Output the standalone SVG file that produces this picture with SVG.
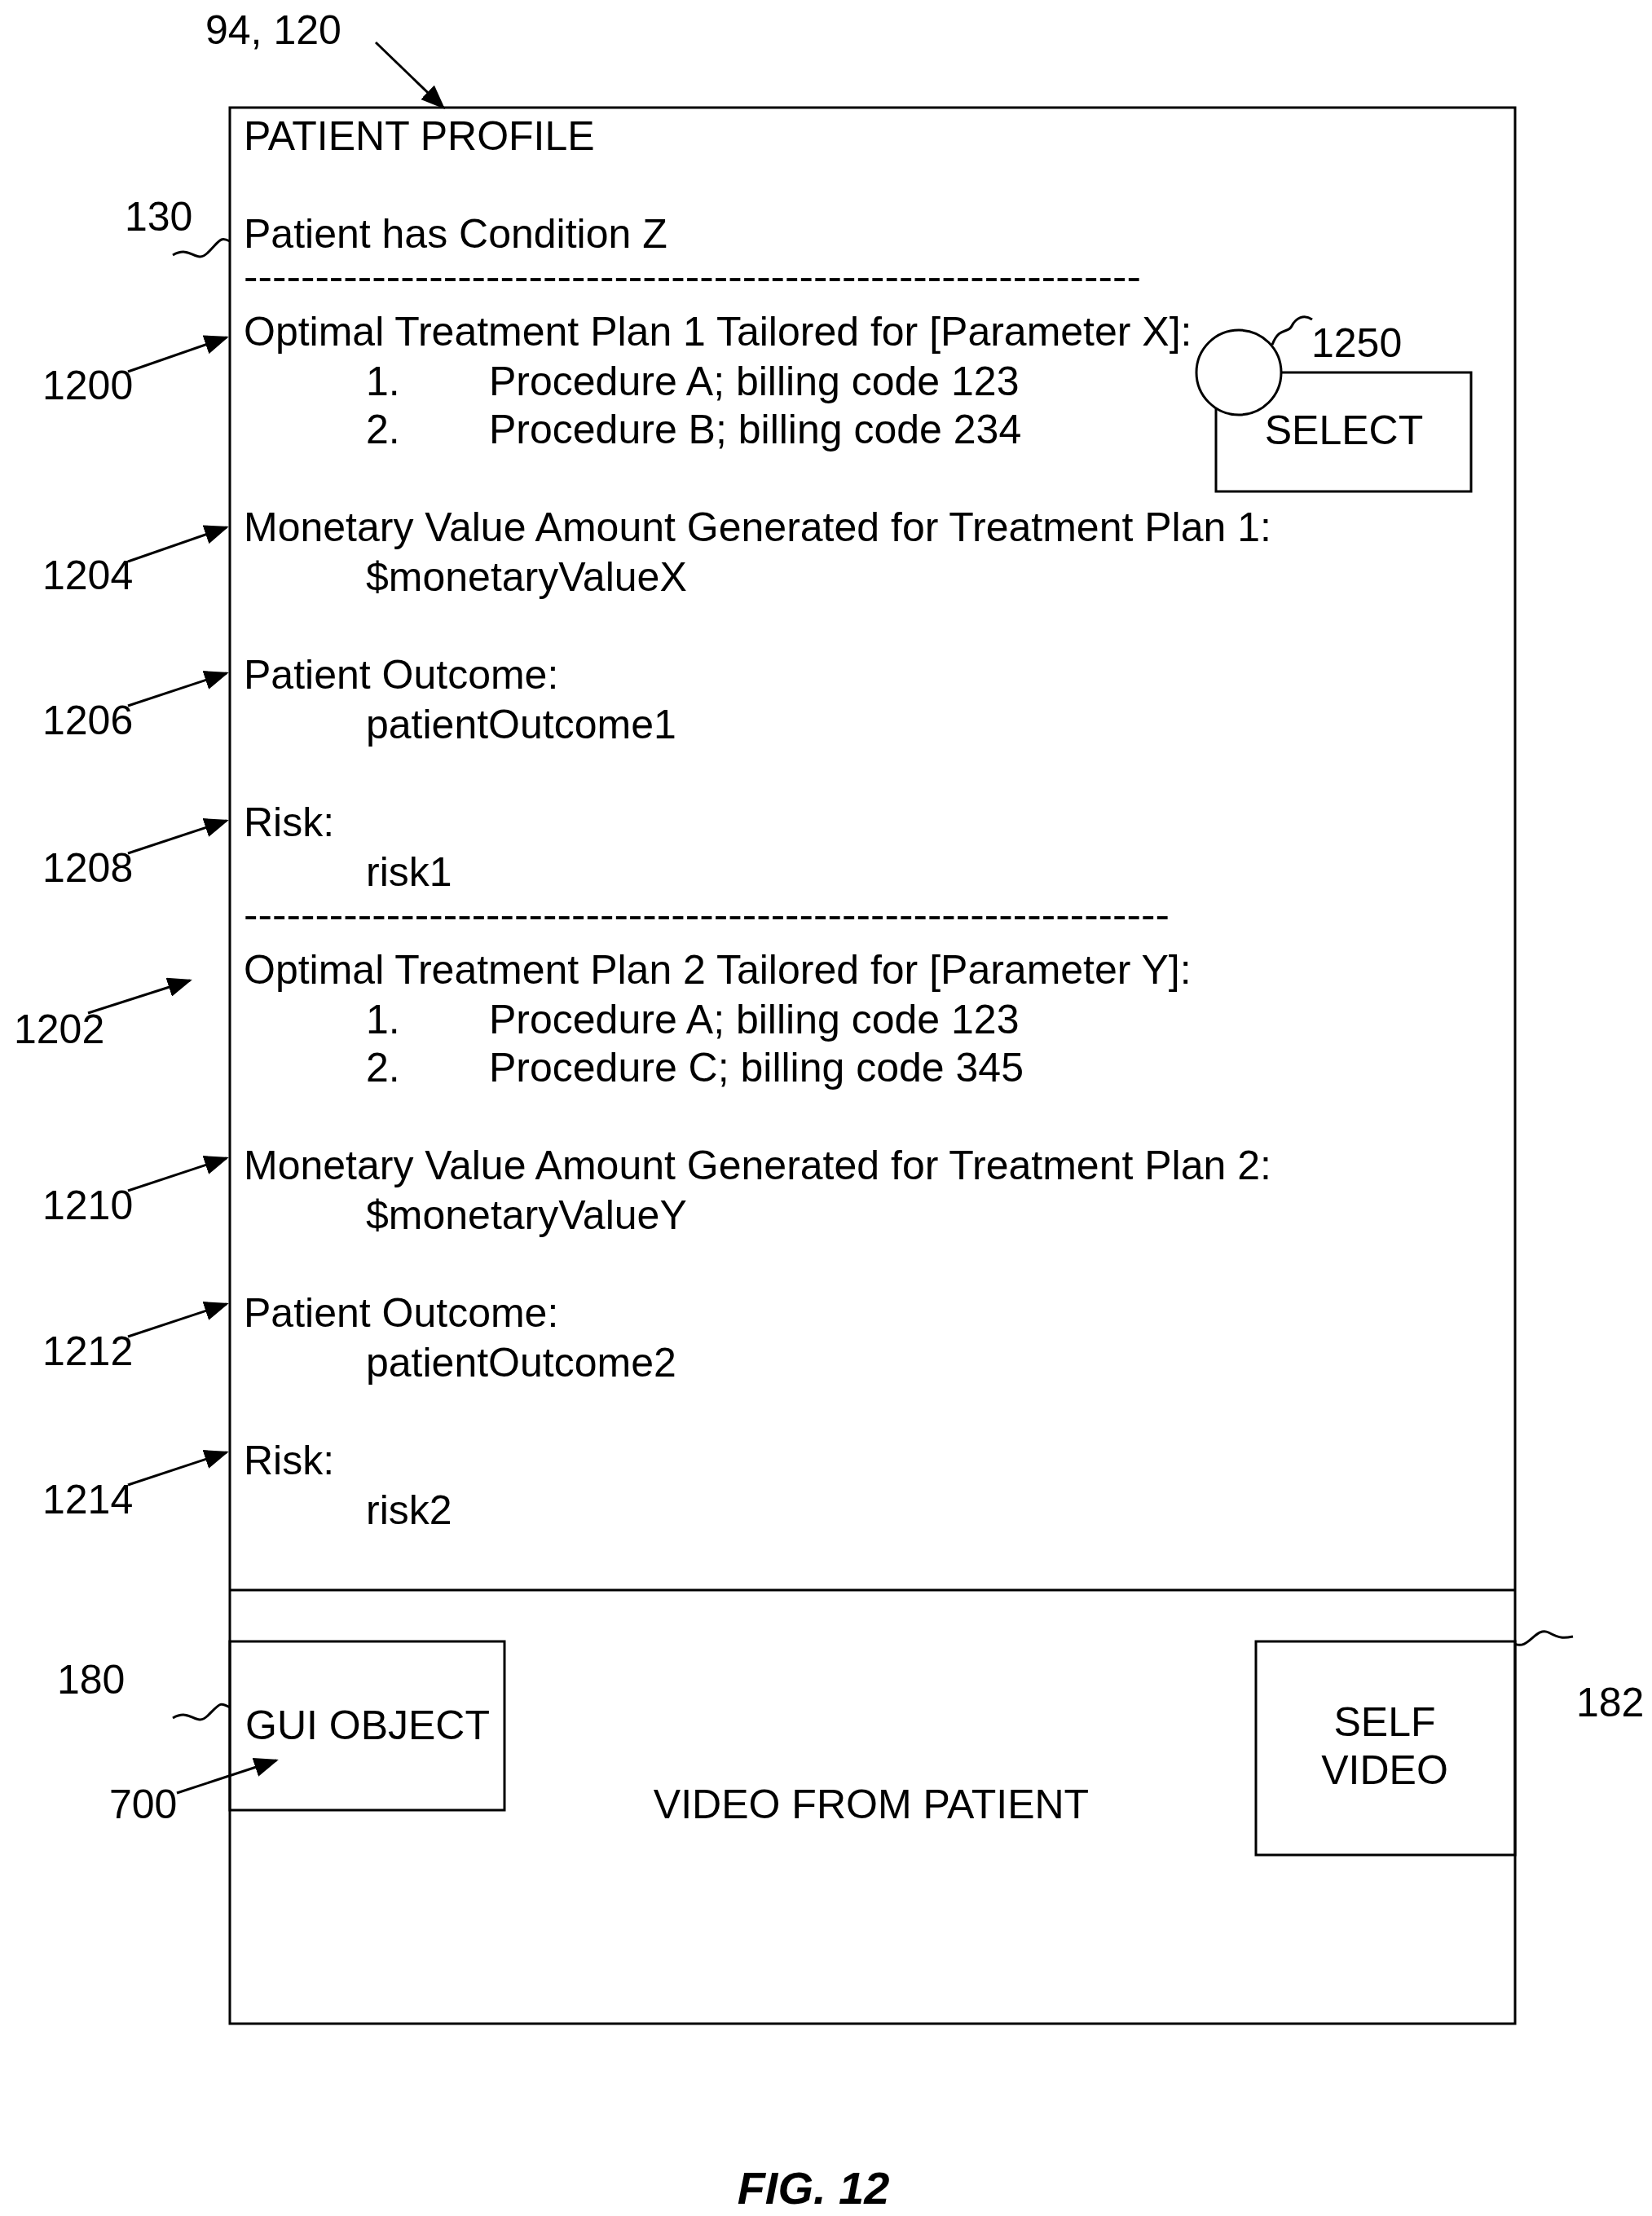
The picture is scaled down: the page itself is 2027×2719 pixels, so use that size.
<svg xmlns="http://www.w3.org/2000/svg" width="2027" height="2719" viewBox="0 0 2027 2719">
<style>
text{font-family:"Liberation Sans",Arial,sans-serif;font-size:50px;fill:#000}
.b{fill:none;stroke:#000;stroke-width:3}
.c{fill:none;stroke:#000;stroke-width:3;marker-end:url(#ah)}
.m{text-anchor:middle}
</style>
<defs><marker id="ah" markerWidth="10" markerHeight="8" refX="9" refY="4" orient="auto" markerUnits="strokeWidth" viewBox="0 0 10 8"><path d="M0,0L10,4L0,8z" fill="#000"/></marker></defs>
<g id="profile">
<rect class="b" x="282" y="132" width="1577" height="2351"/>
<line class="b" x1="282" y1="1951" x2="1859" y2="1951"/>
<text x="299" y="184">PATIENT PROFILE</text>
<text x="299" y="304">Patient has Condition Z</text>
<text x="299" y="356" textLength="1101" lengthAdjust="spacingAndGlyphs">---------------------------------------------------------------</text>
<text x="299" y="424">Optimal Treatment Plan 1 Tailored for [Parameter X]:</text>
<text x="449" y="485">1.</text><text x="600" y="485">Procedure A; billing code 123</text>
<text x="449" y="544">2.</text><text x="600" y="544">Procedure B; billing code 234</text>
<text x="299" y="664">Monetary Value Amount Generated for Treatment Plan 1:</text>
<text x="449" y="725">$monetaryValueX</text>
<text x="299" y="845">Patient Outcome:</text>
<text x="449" y="906">patientOutcome1</text>
<text x="299" y="1026">Risk:</text>
<text x="449" y="1087">risk1</text>
<text x="299" y="1139" textLength="1136" lengthAdjust="spacingAndGlyphs">-----------------------------------------------------------------</text>
<text x="299" y="1207">Optimal Treatment Plan 2 Tailored for [Parameter Y]:</text>
<text x="449" y="1268">1.</text><text x="600" y="1268">Procedure A; billing code 123</text>
<text x="449" y="1327">2.</text><text x="600" y="1327">Procedure C; billing code 345</text>
<text x="299" y="1447">Monetary Value Amount Generated for Treatment Plan 2:</text>
<text x="449" y="1508">$monetaryValueY</text>
<text x="299" y="1628">Patient Outcome:</text>
<text x="449" y="1689">patientOutcome2</text>
<text x="299" y="1809">Risk:</text>
<text x="449" y="1870">risk2</text>
<text class="m" x="1069" y="2231">VIDEO FROM PATIENT</text>
</g>
<g id="select">
<rect class="b" x="1492" y="457" width="313" height="146"/>
<circle cx="1520" cy="457" r="52" fill="#fff" stroke="#000" stroke-width="3"/>
<text class="m" x="1649" y="545">SELECT</text>
</g>
<g id="gui">
<rect class="b" x="282" y="2014" width="337" height="207"/>
<text x="301" y="2134">GUI OBJECT</text>
</g>
<g id="self">
<rect class="b" x="1541" y="2014" width="318" height="262"/>
<text class="m" x="1699" y="2130">SELF</text>
<text class="m" x="1699" y="2189">VIDEO</text>
</g>
<g id="labels">
<text x="252" y="54">94, 120</text>
<text x="153" y="283">130</text>
<text x="1609" y="438">1250</text>
<text x="52" y="490">1200</text>
<text x="52" y="723">1204</text>
<text x="52" y="901">1206</text>
<text x="52" y="1082">1208</text>
<text x="17" y="1280">1202</text>
<text x="52" y="1496">1210</text>
<text x="52" y="1675">1212</text>
<text x="52" y="1857">1214</text>
<text x="70" y="2078">180</text>
<text x="1934" y="2106">182</text>
<text x="134" y="2231">700</text>
<text x="998" y="2704" class="m" style="font-weight:bold;font-style:italic;font-size:56px">FIG. 12</text>
</g>
<g id="connectors">
<path class="c" d="M461,52L544,132"/>
<path class="c" d="M157,456L278,414"/>
<path class="c" d="M157,689L278,647"/>
<path class="c" d="M157,866L278,826"/>
<path class="c" d="M157,1047L278,1007"/>
<path class="c" d="M108,1243L233,1203"/>
<path class="c" d="M157,1461L278,1421"/>
<path class="c" d="M157,1640L278,1600"/>
<path class="c" d="M157,1822L278,1782"/>
<path class="c" d="M217,2200L339,2160"/>
<path class="b" d="M212,313C235,300 240,325 255,310S270,290 282,296"/>
<path class="b" d="M1561,423C1570,400 1580,410 1585,400S1600,385 1610,392"/>
<path class="b" d="M212,2108C235,2095 240,2120 255,2105S270,2088 282,2095"/>
<path class="b" d="M1859,2017C1875,2025 1885,1995 1900,2003S1920,2010 1930,2008"/>
</g>
</svg>
